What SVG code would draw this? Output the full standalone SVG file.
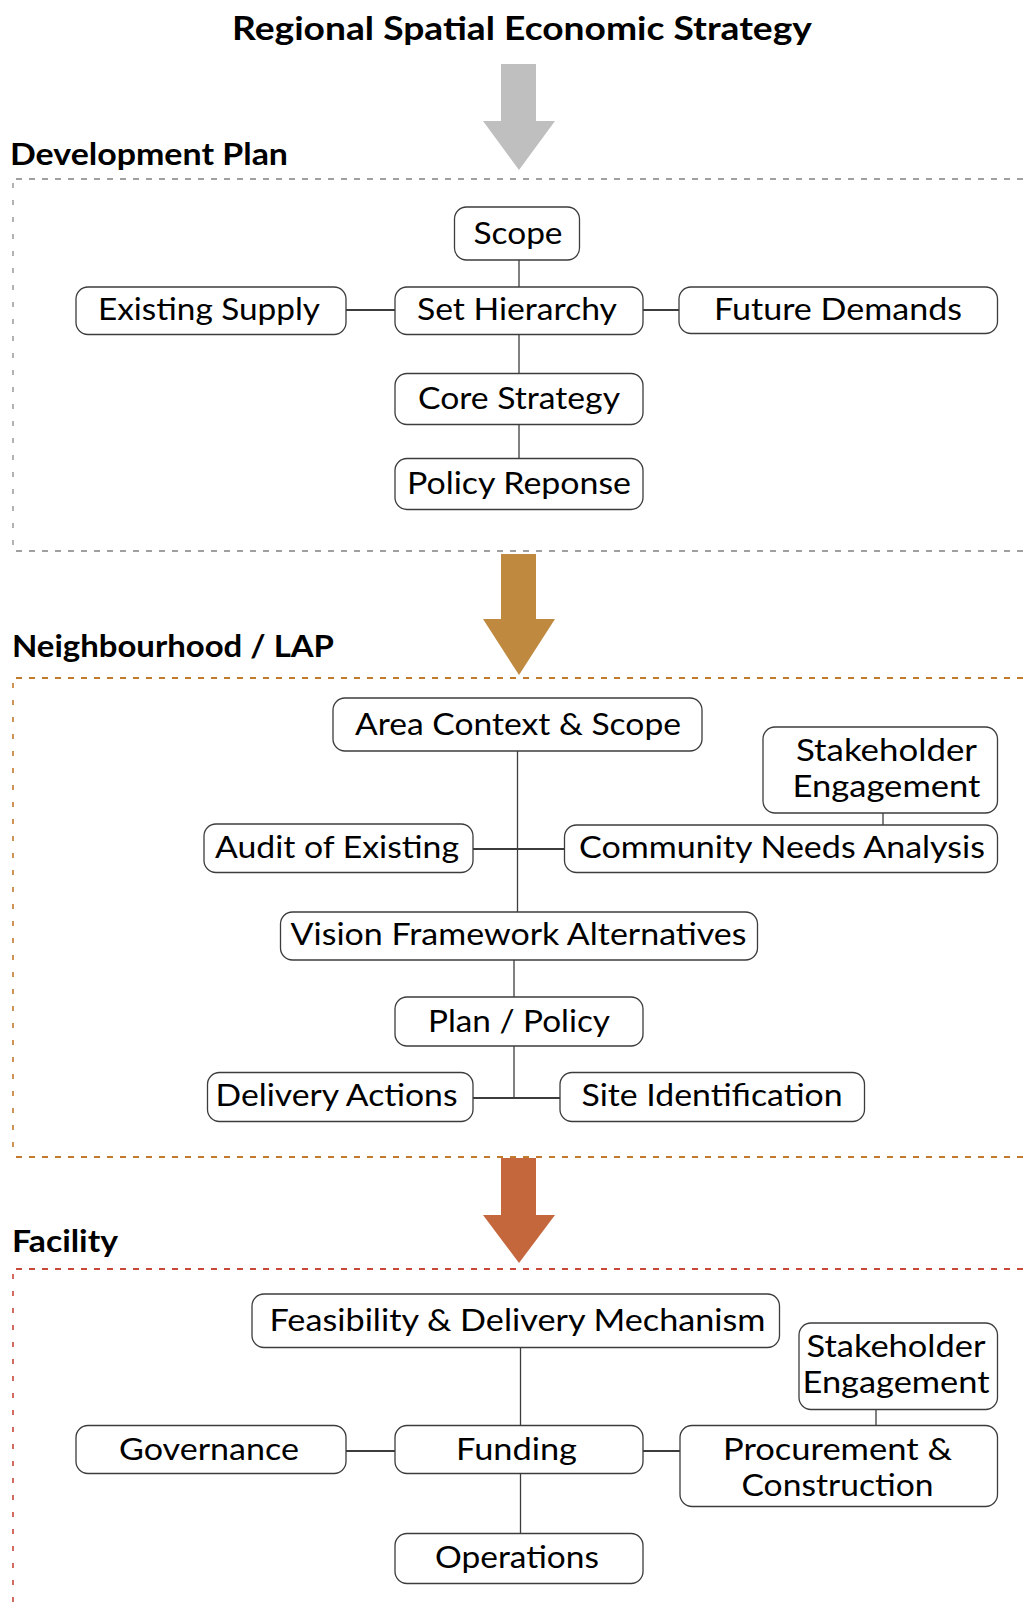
<svg xmlns="http://www.w3.org/2000/svg" width="1027" height="1612" viewBox="0 0 1027 1612">
<style>
  .bg{fill:#ffffff}
  .node rect{fill:#ffffff;stroke:#3c3c3c;stroke-width:1.3}
  .node text{font-family:Lato, "Liberation Sans", sans-serif;font-size:30px;fill:#000000;text-anchor:middle}
  .hdr{font-family:Lato, "Liberation Sans", sans-serif;font-weight:bold;font-size:30px;fill:#000000}
  .ttl{font-size:32px}
  .conn line{stroke:#3c3c3c;stroke-width:1.3}
  .conn line.h{stroke-width:2}
  .dh{fill:none;stroke-width:2;stroke-dasharray:6 7}
  .dv{fill:none;stroke-width:1.6;stroke-dasharray:5 12}
  .gray{stroke:#a0a0a0}
  .brown{stroke:#c47a2c}
  .red{stroke:#c8483a}
</style>
<rect class="bg" x="0" y="0" width="1027" height="1612"/>

<!-- Title and section headers -->
<text class="hdr ttl" x="522" y="39.5" text-anchor="middle" textLength="580" lengthAdjust="spacingAndGlyphs">Regional Spatial Economic Strategy</text>
<text class="hdr" x="10" y="165" textLength="278" lengthAdjust="spacingAndGlyphs">Development Plan</text>
<text class="hdr" x="12" y="656.5" textLength="322" lengthAdjust="spacingAndGlyphs">Neighbourhood / LAP</text>
<text class="hdr" x="12" y="1252" textLength="106" lengthAdjust="spacingAndGlyphs">Facility</text>

<!-- Section frames -->
<g id="frames">
  <line class="dh gray" x1="16" y1="179" x2="1027" y2="179"/>
  <line class="dv gray" x1="13" y1="183" x2="13" y2="548"/>
  <line class="dh gray" x1="16" y1="551" x2="1027" y2="551"/>
  <line class="dh brown" x1="16" y1="678" x2="1027" y2="678"/>
  <line class="dv brown" x1="13" y1="683" x2="13" y2="1154"/>
  <line class="dh brown" x1="16" y1="1157" x2="1027" y2="1157"/>
  <line class="dh red" x1="16" y1="1269" x2="1027" y2="1269"/>
  <line class="dv red" x1="13" y1="1274" x2="13" y2="1612"/>
</g>

<!-- Block arrows between levels -->
<g id="level-arrows">
  <polygon fill="#bfbfbf" points="501,64 536,64 536,121 555,121 519,170 483,121 501,121"/>
  <polygon fill="#bf8a40" points="501,554 536,554 536,619 555,619 519,675 483,619 501,619"/>
  <polygon fill="#c5673d" points="501,1158 536,1158 536,1215 555,1215 519,1263 483,1215 501,1215"/>
</g>

<!-- Connectors -->
<g id="connectors" class="conn">
  <line x1="519" y1="260" x2="519" y2="287"/>
  <line x1="519" y1="334" x2="519" y2="373"/>
  <line x1="519" y1="424" x2="519" y2="458"/>
  <line class="h" x1="346" y1="310" x2="395" y2="310"/>
  <line class="h" x1="643" y1="310" x2="679" y2="310"/>
  <line x1="517.5" y1="751" x2="517.5" y2="912"/>
  <line class="h" x1="473" y1="849" x2="564" y2="849"/>
  <line x1="883" y1="813" x2="883" y2="825"/>
  <line x1="514" y1="960" x2="514" y2="997"/>
  <line x1="514" y1="1046" x2="514" y2="1098"/>
  <line class="h" x1="473" y1="1098" x2="560" y2="1098"/>
  <line x1="520.5" y1="1347" x2="520.5" y2="1425"/>
  <line x1="520.5" y1="1473" x2="520.5" y2="1533"/>
  <line class="h" x1="346" y1="1451" x2="395" y2="1451"/>
  <line class="h" x1="643" y1="1451" x2="680" y2="1451"/>
  <line x1="876" y1="1409" x2="876" y2="1425"/>
</g>

<!-- Development Plan nodes -->
<g id="n-scope" class="node"><rect x="454.5" y="207" width="125" height="53" rx="12"/><text x="518" y="244" textLength="89" lengthAdjust="spacingAndGlyphs">Scope</text></g>
<g id="n-set-hierarchy" class="node"><rect x="395" y="287" width="248" height="47.5" rx="12"/><text x="517" y="320" textLength="200" lengthAdjust="spacingAndGlyphs">Set Hierarchy</text></g>
<g id="n-existing-supply" class="node"><rect x="76" y="287" width="270" height="47.5" rx="12"/><text x="209" y="319.5" textLength="222" lengthAdjust="spacingAndGlyphs">Existing Supply</text></g>
<g id="n-future-demands" class="node"><rect x="679" y="287" width="318.5" height="46.5" rx="12"/><text x="838" y="319.5" textLength="248" lengthAdjust="spacingAndGlyphs">Future Demands</text></g>
<g id="n-core-strategy" class="node"><rect x="395" y="373.5" width="248" height="51" rx="12"/><text x="519" y="409" textLength="202" lengthAdjust="spacingAndGlyphs">Core Strategy</text></g>
<g id="n-policy-reponse" class="node"><rect x="395" y="458.5" width="248" height="51" rx="12"/><text x="519" y="494" textLength="224" lengthAdjust="spacingAndGlyphs">Policy Reponse</text></g>

<!-- Neighbourhood / LAP nodes -->
<g id="n-area-context" class="node"><rect x="333" y="698" width="369" height="53" rx="12"/><text x="518" y="735" textLength="326" lengthAdjust="spacingAndGlyphs">Area Context &amp; Scope</text></g>
<g id="n-stakeholder-lap" class="node"><rect x="763" y="727" width="234.5" height="86" rx="12"/><text x="886.5" y="761" textLength="181" lengthAdjust="spacingAndGlyphs">Stakeholder</text><text x="886.5" y="797" textLength="188" lengthAdjust="spacingAndGlyphs">Engagement</text></g>
<g id="n-audit" class="node"><rect x="204" y="824" width="269" height="48.5" rx="12"/><text x="337" y="858" textLength="244" lengthAdjust="spacingAndGlyphs">Audit of Existing</text></g>
<g id="n-community" class="node"><rect x="564.5" y="825" width="433" height="47.5" rx="12"/><text x="782" y="858" textLength="406" lengthAdjust="spacingAndGlyphs">Community Needs Analysis</text></g>
<g id="n-vision" class="node"><rect x="280.5" y="912" width="477" height="48" rx="12"/><text x="518.5" y="945" textLength="456" lengthAdjust="spacingAndGlyphs">Vision Framework Alternatives</text></g>
<g id="n-plan-policy" class="node"><rect x="395" y="997" width="248" height="49" rx="12"/><text x="519" y="1031.5" textLength="182" lengthAdjust="spacingAndGlyphs">Plan / Policy</text></g>
<g id="n-delivery-actions" class="node"><rect x="207.5" y="1072.5" width="265.5" height="49" rx="12"/><text x="336.5" y="1106" textLength="242" lengthAdjust="spacingAndGlyphs">Delivery Actions</text></g>
<g id="n-site-identification" class="node"><rect x="560" y="1072.5" width="304.5" height="49" rx="12"/><text x="712" y="1106" textLength="261" lengthAdjust="spacingAndGlyphs">Site Identification</text></g>

<!-- Facility nodes -->
<g id="n-feasibility" class="node"><rect x="252" y="1294" width="527.5" height="53.5" rx="12"/><text x="517.5" y="1331" textLength="496" lengthAdjust="spacingAndGlyphs">Feasibility &amp; Delivery Mechanism</text></g>
<g id="n-stakeholder-facility" class="node"><rect x="799" y="1323" width="198.5" height="86.5" rx="12"/><text x="896" y="1357" textLength="179" lengthAdjust="spacingAndGlyphs">Stakeholder</text><text x="896" y="1393" textLength="187" lengthAdjust="spacingAndGlyphs">Engagement</text></g>
<g id="n-governance" class="node"><rect x="76" y="1425.5" width="270" height="48" rx="12"/><text x="209" y="1460" textLength="180" lengthAdjust="spacingAndGlyphs">Governance</text></g>
<g id="n-funding" class="node"><rect x="395" y="1425.5" width="248" height="48" rx="12"/><text x="516.5" y="1460" textLength="121" lengthAdjust="spacingAndGlyphs">Funding</text></g>
<g id="n-procurement" class="node"><rect x="680" y="1425.5" width="317.5" height="81" rx="12"/><text x="837.5" y="1459.5" textLength="229" lengthAdjust="spacingAndGlyphs">Procurement &amp;</text><text x="837.5" y="1496" textLength="192" lengthAdjust="spacingAndGlyphs">Construction</text></g>
<g id="n-operations" class="node"><rect x="395" y="1533.5" width="248" height="50" rx="12"/><text x="517" y="1568" textLength="164" lengthAdjust="spacingAndGlyphs">Operations</text></g>
</svg>
